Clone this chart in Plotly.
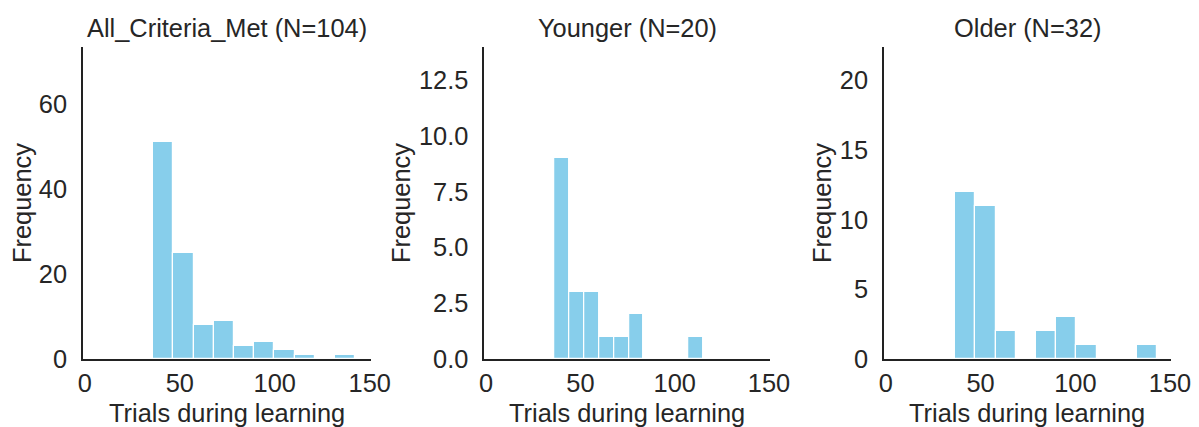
import plotly.graph_objects as go

# ---- data ----
titles = ["All_Criteria_Met (N=104)", "Younger (N=20)", "Older (N=32)"]
all_counts = [51, 25, 8, 9, 3, 4, 2, 1, 0, 1]
all_edges = [36.0, 142.3]          # min / max of data (10 equal bins)
younger_counts = [9, 3, 3, 1, 1, 2, 0, 0, 0, 1]
younger_edges = [36.3, 115.0]
older_counts = [12, 11, 2, 0, 2, 3, 1, 0, 0, 1]
older_edges = [36.5, 143.3]
y_tops = [73.3, 14.0, 22.4]
y_ticks = [[0, 20, 40, 60],
           [0, 2.5, 5, 7.5, 10, 12.5],
           [0, 5, 10, 15, 20]]
y_ticktext = [["0", "20", "40", "60"],
              ["0.0", "2.5", "5.0", "7.5", "10.0", "12.5"],
              ["0", "5", "10", "15", "20"]]
x_ticks = [0, 50, 100, 150]
x_label = "Trials during learning"
y_label = "Frequency"

panels = [(all_counts, all_edges), (younger_counts, younger_edges), (older_counts, older_edges)]

FONT = "Liberation Sans, Arial, Helvetica, sans-serif"
FS = 25.4
TXT = "#262626"
BAR = "#87CEEB"

W, H = 1199, 427
ML, MR, MT, MB = 83, 28, 47, 68
PW, PH = W - ML - MR, H - MT - MB

fig = go.Figure()
domains = [[0.0, 0.2644], [0.3688, 0.6314], [0.7362, 1.0]]
ylabel_px = [22, 401, 822]

for i, (counts, (lo, hi)) in enumerate(panels):
    n = len(counts)
    w = (hi - lo) / n
    centers = [lo + w * (k + 0.5) for k in range(n)]
    xa = "x" if i == 0 else f"x{i+1}"
    ya = "y" if i == 0 else f"y{i+1}"
    fig.add_trace(go.Bar(
        x=centers, y=counts, width=[w] * n,
        marker=dict(color=BAR, line=dict(color="white", width=1.2)),
        xaxis=xa, yaxis=ya, showlegend=False,
    ))
    axis_common = dict(showline=True, linecolor="#222222", linewidth=1.6,
                       showgrid=False, zeroline=False, automargin=False,
                       tickfont=dict(family=FONT, size=FS, color=TXT),
                       ticks="outside", tickcolor="rgba(0,0,0,0)")
    xkey = "xaxis" if i == 0 else f"xaxis{i+1}"
    ykey = "yaxis" if i == 0 else f"yaxis{i+1}"
    fig.update_layout(**{
        xkey: dict(domain=domains[i], anchor=ya, range=[-1, 150.5],
                   tickvals=x_ticks, ticklen=1, **axis_common),
        ykey: dict(domain=[0, 1], anchor=xa, range=[0, y_tops[i]],
                   tickvals=y_ticks[i], ticktext=y_ticktext[i], ticklen=9,
                   **axis_common),
    })
    cx = (domains[i][0] + domains[i][1]) / 2
    # panel title
    fig.add_annotation(text=titles[i], xref="paper", yref="paper",
                       x=cx, y=1 + 19 / PH, xanchor="center", yanchor="middle",
                       showarrow=False, font=dict(family=FONT, size=FS, color=TXT))
    # x-axis title
    fig.add_annotation(text=x_label, xref="paper", yref="paper",
                       x=cx, y=-54 / PH, xanchor="center", yanchor="middle",
                       showarrow=False, font=dict(family=FONT, size=FS, color=TXT))
    # y-axis title
    fig.add_annotation(text=y_label, xref="paper", yref="paper",
                       x=(ylabel_px[i] - ML) / PW, y=0.5, xanchor="center", yanchor="middle",
                       textangle=-90, showarrow=False,
                       font=dict(family=FONT, size=FS, color=TXT))

fig.update_layout(
    width=W, height=H,
    margin=dict(l=ML, r=MR, t=MT, b=MB),
    paper_bgcolor="white", plot_bgcolor="white",
    bargap=0,
)

fig.write_html("out.html")
